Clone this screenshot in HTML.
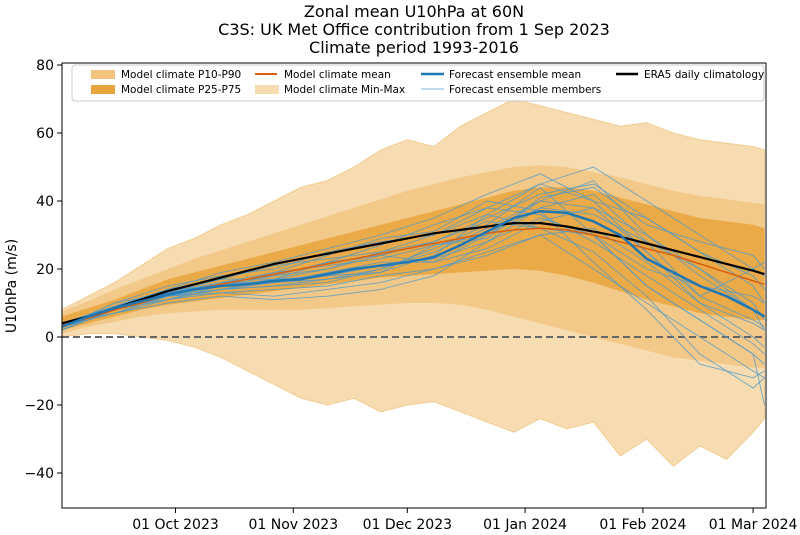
<!DOCTYPE html>
<html><head><meta charset="utf-8"><style>
body{margin:0;background:#fff}
svg{font-family:"DejaVu Sans","Liberation Sans",sans-serif;display:block}
</style></head><body>
<svg id="chart" width="800" height="535" viewBox="0 0 800 535" xmlns="http://www.w3.org/2000/svg">
<g font-size="16" text-anchor="middle" fill="#000">
<text x="414" y="17">Zonal mean U10hPa at 60N</text>
<text x="414" y="35">C3S: UK Met Office contribution from 1 Sep 2023</text>
<text x="414" y="53">Climate period 1993-2016</text>
</g>
<text x="0" y="0" font-size="14" text-anchor="middle" transform="translate(16,286) rotate(-90)">U10hPa (m/s)</text>
<defs><clipPath id="pc"><rect x="62" y="63" width="704" height="445"/></clipPath></defs>
<g id="plot" clip-path="url(#pc)"></g>
<g id="axes"></g>
<g id="legend">
<rect x="72" y="65" width="692" height="36" rx="3" fill="#fff" fill-opacity="0.85" stroke="#ccc"/>
<g font-size="10.5" fill="#000">
<rect x="91" y="70" width="24" height="9" fill="#f1c37c"/>
<text x="121" y="78">Model climate P10-P90</text>
<rect x="91" y="85" width="24" height="9" fill="#e9a53d"/>
<text x="121" y="93">Model climate P25-P75</text>
<line x1="255" y1="74" x2="277" y2="74" stroke="#d95f0e" stroke-width="2"/>
<text x="284" y="78">Model climate mean</text>
<rect x="255" y="85" width="24" height="9" fill="#f7dcb1"/>
<text x="284" y="93">Model climate Min-Max</text>
<line x1="421" y1="74" x2="444" y2="74" stroke="#1f77b4" stroke-width="2.5"/>
<text x="449" y="78">Forecast ensemble mean</text>
<line x1="421" y1="89" x2="444" y2="89" stroke="#7bb6dc" stroke-width="1"/>
<text x="449" y="93">Forecast ensemble members</text>
<line x1="616" y1="74" x2="638" y2="74" stroke="#000" stroke-width="2.5"/>
<text x="644" y="78">ERA5 daily climatology</text>
</g></g>
</svg>
<script>
const bandDays=[0,7,14,21,28,35,42,49,56,63,70,77,84,91,98,105,112,119,126,133,140,147,154,161,168,175,182,185];
const era5=[4,6,8.5,11,13.5,15.5,17.5,19.5,21.5,23,24.5,26,27.5,29,30.5,31.5,32.5,33.5,33.5,32.5,31,29.5,27.5,25.5,23.5,21.5,19.5,18.5];
const modelMean=[3.5,5.5,8,10,12.5,14,15.5,17,18.5,20,21.5,23,24.5,26,27.5,29,30.5,31.5,32,31.5,30,28,26,24,21.5,19,16.5,15.5];
const p25=[2,4,6,8,9.5,10.5,11.5,12.5,13.5,14.5,15.5,16.5,17.5,18,18.5,19,19.5,20,19.5,18,16,13.5,11,9,7,6,5,5];
const p75=[6,8.5,11,14,17,19,21,23,25,27,29,31,33,35,37,39,41,43,44,44,43,41,39,37,35,34,33,32];
const p10=[1,3,4.5,6,7,7.5,8,8,8,8,8.5,9,9.5,10,10,9.5,8,6,4,2,0,-2,-4,-6,-7,-8,-9,-9];
const p90=[7.5,10.5,14,17,20,23,25.5,28,30.5,33,35.5,38,40.5,43,45,47,48.5,50,50.5,50,48.5,47,45,43,41.5,40.5,39.5,39];
const minV=[0,1,1,0,-1,-3,-6,-10,-14,-18,-20,-18,-22,-20,-19,-22,-25,-28,-24,-27,-25,-35,-30,-38,-32,-36,-28,-24];
const maxV=[8,12,16,21,26,29,33,36,40,44,46,50,55,58,56,62,66,70,68,66,64,62,63,60,58,57,56,55];
const fcMean=[3,6,8.5,10.5,12.5,14,15,15.5,16.5,17,18.5,20,21,22,23.5,27,31,35,37,36.5,34,30,23,19,15,12,8,6];
const memDays=[0,14,28,42,56,70,84,98,112,126,140,154,168,182,185];
const m1=[3,9,14,19,22,26,30,35,42,48,40,25,10,0,-3];
const m2=[4,7,10,12,11,12,14,18,28,35,30,15,5,-5,-8];
const m3=[3,10,15,18,20,25,28,30,38,45,50,40,30,20,18];
const m4=[2,8,11,13,14,15,18,20,25,30,20,10,0,-10,-12];
const m5=[4,9,13,17,21,23,25,28,35,42,45,35,25,15,10];
const m6=[3,8,12,14,15,16,20,25,32,40,38,30,20,10,5];
const m7=[3,9,13,15,18,22,27,33,38,36,28,18,8,-2,-5];
const m8=[4,7,11,14,16,19,22,22,30,38,42,28,12,5,3];
const m9=[3,8,12,16,18,20,24,28,34,32,25,12,-5,-15,-12];
const m10=[2,9,14,17,17,18,19,24,36,45,40,35,25,18,14];
const m11=[3,8,12,13,12,14,16,20,24,30,32,22,10,4,2];
const m12=[3,10,13,16,19,21,23,27,30,40,46,30,18,8,6];
const m13=[4,8,12,14,17,20,25,30,36,32,30,20,15,12,10];
const m14=[3,9,11,15,16,18,21,23,28,38,36,28,20,8,2];
const m15=[2,8,13,16,16,17,20,26,33,44,30,15,5,-5,-20];
const m16=[3,9,14,15,17,22,24,22,26,34,38,25,12,20,22];
const m17=[3,7,12,15,19,24,29,31,40,37,22,8,-8,-12,-10];
const m18=[4,9,12,14,15,17,19,27,29,41,44,33,28,24,20];
const members=[m1,m2,m3,m4,m5,m6,m7,m8,m9,m10,m11,m12,m13,m14,m15,m16,m17,m18];
const yTicks=[-40,-20,0,20,40,60,80];
const xTickDays=[30,61,91,122,153,182];
const xTickLabels=["01 Oct 2023","01 Nov 2023","01 Dec 2023","01 Jan 2024","01 Feb 2024","01 Mar 2024"];

const NS="http://www.w3.org/2000/svg";
const xs=d=>61.5+d*3.8;
const ys=v=>337-v*3.4;
const plot=document.getElementById('plot');
const axes=document.getElementById('axes');
function mk(tag,attrs,parent){const e=document.createElementNS(NS,tag);for(const k in attrs)e.setAttribute(k,attrs[k]);parent.appendChild(e);return e;}
function linePath(days,vals){return days.map((d,i)=>(i?'L':'M')+xs(d).toFixed(1)+','+ys(vals[i]).toFixed(1)).join('');}
function bandPath(days,lo,hi){let p=linePath(days,hi);for(let i=days.length-1;i>=0;i--)p+='L'+xs(days[i]).toFixed(1)+','+ys(lo[i]).toFixed(1);return p+'Z';}

let e;
e=mk('path',{d:bandPath(bandDays,minV,maxV),fill:'#f7dcb1',stroke:'#f1cd90','stroke-width':1},plot);


e=mk('path',{d:bandPath(bandDays,p10,p90),fill:'#f1c37c','fill-opacity':0.75},plot);


e=mk('path',{d:bandPath(bandDays,p25,p75),fill:'#e9a53d','fill-opacity':0.85},plot);


e=mk('line',{x1:62,x2:766,y1:ys(0),y2:ys(0),stroke:'#666','stroke-width':2,'stroke-dasharray':'7,4'},plot);


members.forEach((m,i)=>{
  const p=mk('path',{d:linePath(memDays,m),fill:'none',stroke:'#4a98cc','stroke-width':0.9,'stroke-opacity':0.8},plot);
  
  
});
e=mk('path',{d:linePath(bandDays,modelMean),fill:'none',stroke:'#d95f0e','stroke-width':1.5},plot);


e=mk('path',{d:linePath(bandDays,era5),fill:'none',stroke:'#000','stroke-width':2.2},plot);


e=mk('path',{d:linePath(bandDays,fcMean),fill:'none',stroke:'#1f77b4','stroke-width':2.5},plot);



e=mk('rect',{x:62,y:63,width:704,height:445,fill:'none',stroke:'#000','stroke-width':1},axes);


yTicks.forEach(v=>{
  const t=mk('line',{x1:57,x2:62,y1:ys(v),y2:ys(v),stroke:'#000'},axes);
  
  
  const l=mk('text',{x:54,y:ys(v)+5,'font-size':14,'text-anchor':'end'},axes);
  l.textContent=(v<0?'\u2212'+(-v):String(v));
  
  
});
xTickDays.forEach((d,i)=>{
  const t=mk('line',{x1:xs(d),x2:xs(d),y1:508,y2:513,stroke:'#000'},axes);
  
  
  const l=mk('text',{x:xs(d),y:529,'font-size':14,'text-anchor':'middle'},axes);
  l.textContent=xTickLabels[i];
  
  
});
</script>
</body></html>
